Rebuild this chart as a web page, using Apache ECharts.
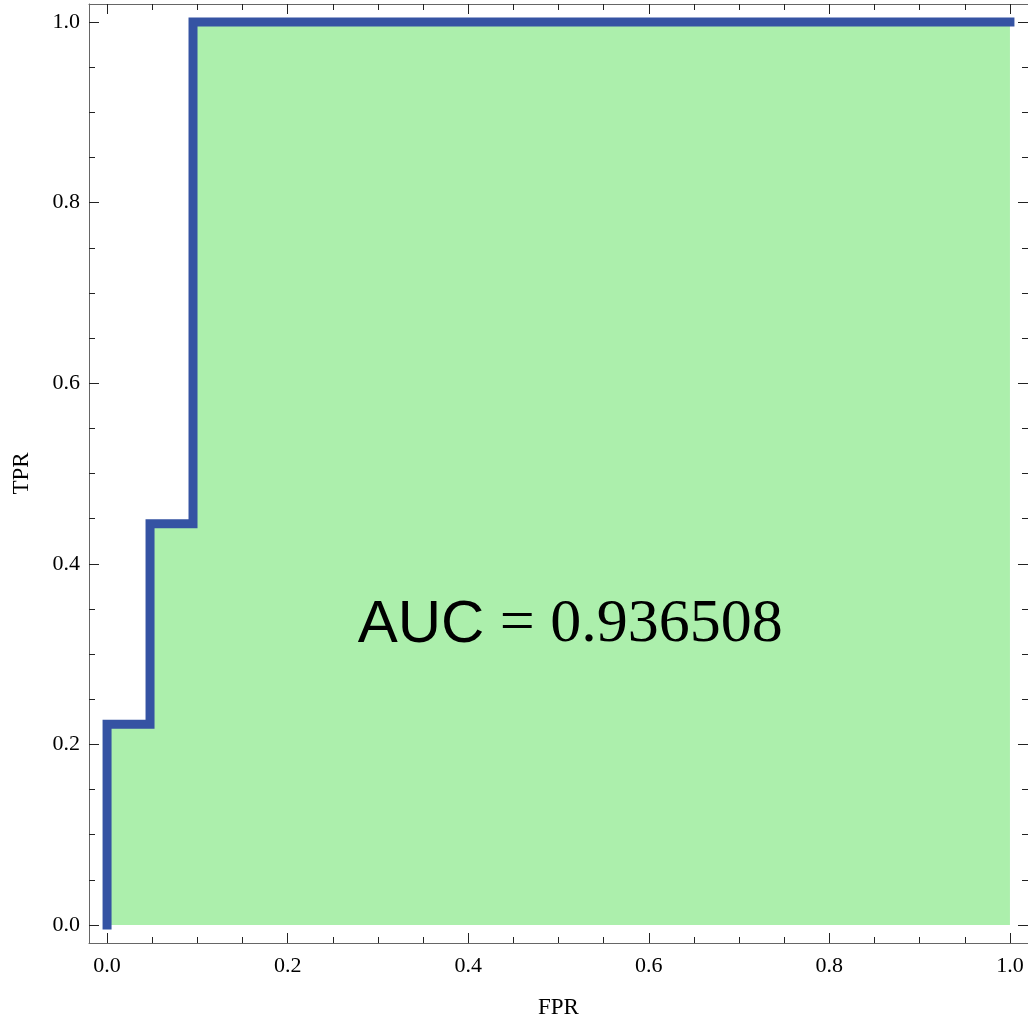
<!DOCTYPE html>
<html>
<head>
<meta charset="utf-8">
<script src="https://cdn.jsdelivr.net/npm/echarts@6/dist/echarts.min.js"></script>
<style>
html,body{margin:0;padding:0;background:#fff;}
#chart{width:1028px;height:1019px;}
</style>
</head>
<body>
<div id="chart"></div>
<script>
// ROC curve points (FPR, TPR)
const fpr = [0, 0, 0.0476, 0.0476, 0.0952, 0.0952, 1.0];
const tpr = [0, 0.2222, 0.2222, 0.4444, 0.4444, 1.0, 1.0];
const majorTicks = [0, 0.2, 0.4, 0.6, 0.8, 1.0];
const minorTicks = [0.05, 0.1, 0.15, 0.25, 0.3, 0.35, 0.45, 0.5, 0.55, 0.65, 0.7, 0.75, 0.85, 0.9, 0.95];
const aucText = 'AUC';
const aucValue = '0.936508';
const aucPos = [0.513, 0.332];
const xName = 'FPR';
const yName = 'TPR';

const AX_MIN = -0.02, AX_MAX = 1.02;
const serif = 'Liberation Serif';

function mkAxis(position, ticks, len, major, extra) {
  return Object.assign({
    type: 'value',
    position: position,
    min: AX_MIN, max: AX_MAX,
    axisLine: { show: major, onZero: false, lineStyle: { color: '#666', width: 1 } },
    axisTick: { show: true, inside: true, length: len, customValues: ticks,
                lineStyle: { color: '#222', width: 1 } },
    axisLabel: { show: false, customValues: ticks },
    splitLine: { show: false }
  }, extra || {});
}

const labelStyle = (m, pad) => ({
  show: true, customValues: majorTicks, margin: m, padding: pad,
  formatter: v => Number(v).toFixed(1),
  fontFamily: serif, fontSize: 22, color: '#000'
});

const xAxes = [
  mkAxis('bottom', majorTicks, 10, true, {
    axisLabel: labelStyle(12, 0),
    name: xName, nameLocation: 'middle', nameGap: 53,
    nameTextStyle: { fontFamily: serif, fontSize: 23, color: '#000' }
  }),
  mkAxis('bottom', minorTicks, 6, false),
  mkAxis('top', majorTicks, 10, true),
  mkAxis('top', minorTicks, 6, false)
];
const yAxes = [
  mkAxis('left', majorTicks, 10, true, {
    axisLabel: labelStyle(9, [8, 0, 0, 0]),
    name: yName, nameLocation: 'middle', nameGap: 56, nameRotate: 90,
    nameTextStyle: { fontFamily: serif, fontSize: 23, color: '#000' }
  }),
  mkAxis('left', minorTicks, 6, false),
  mkAxis('right', majorTicks, 10, true),
  mkAxis('right', minorTicks, 6, false)
];

const chart = echarts.init(document.getElementById('chart'), null, { renderer: 'canvas' });
chart.setOption({
  animation: false,
  backgroundColor: '#fff',
  textStyle: { fontFamily: serif },
  grid: { left: 89, right: 0, top: 4, bottom: 76, containLabel: false, outerBoundsMode: 'none' },
  xAxis: xAxes,
  yAxis: yAxes,
  series: [{
    type: 'line',
    xAxisIndex: 0, yAxisIndex: 0,
    data: fpr.map((x, i) => [x, tpr[i]]),
    symbol: 'none',
    lineStyle: { color: '#3553a3', width: 9, cap: 'square', join: 'miter' },
    areaStyle: { color: '#acefac', opacity: 1, origin: 0 },
    markPoint: {
      symbol: 'circle', symbolSize: 0,
      data: [{ coord: aucPos }],
      label: {
        show: true, position: 'inside',
        formatter: '{a|' + aucText + '}{b| = ' + aucValue + '}',
        rich: {
          a: { fontFamily: 'Liberation Sans', fontSize: 60, color: '#000' },
          b: { fontFamily: serif, fontSize: 62, color: '#000' }
        }
      }
    }
  }]
});
</script>
</body>
</html>
